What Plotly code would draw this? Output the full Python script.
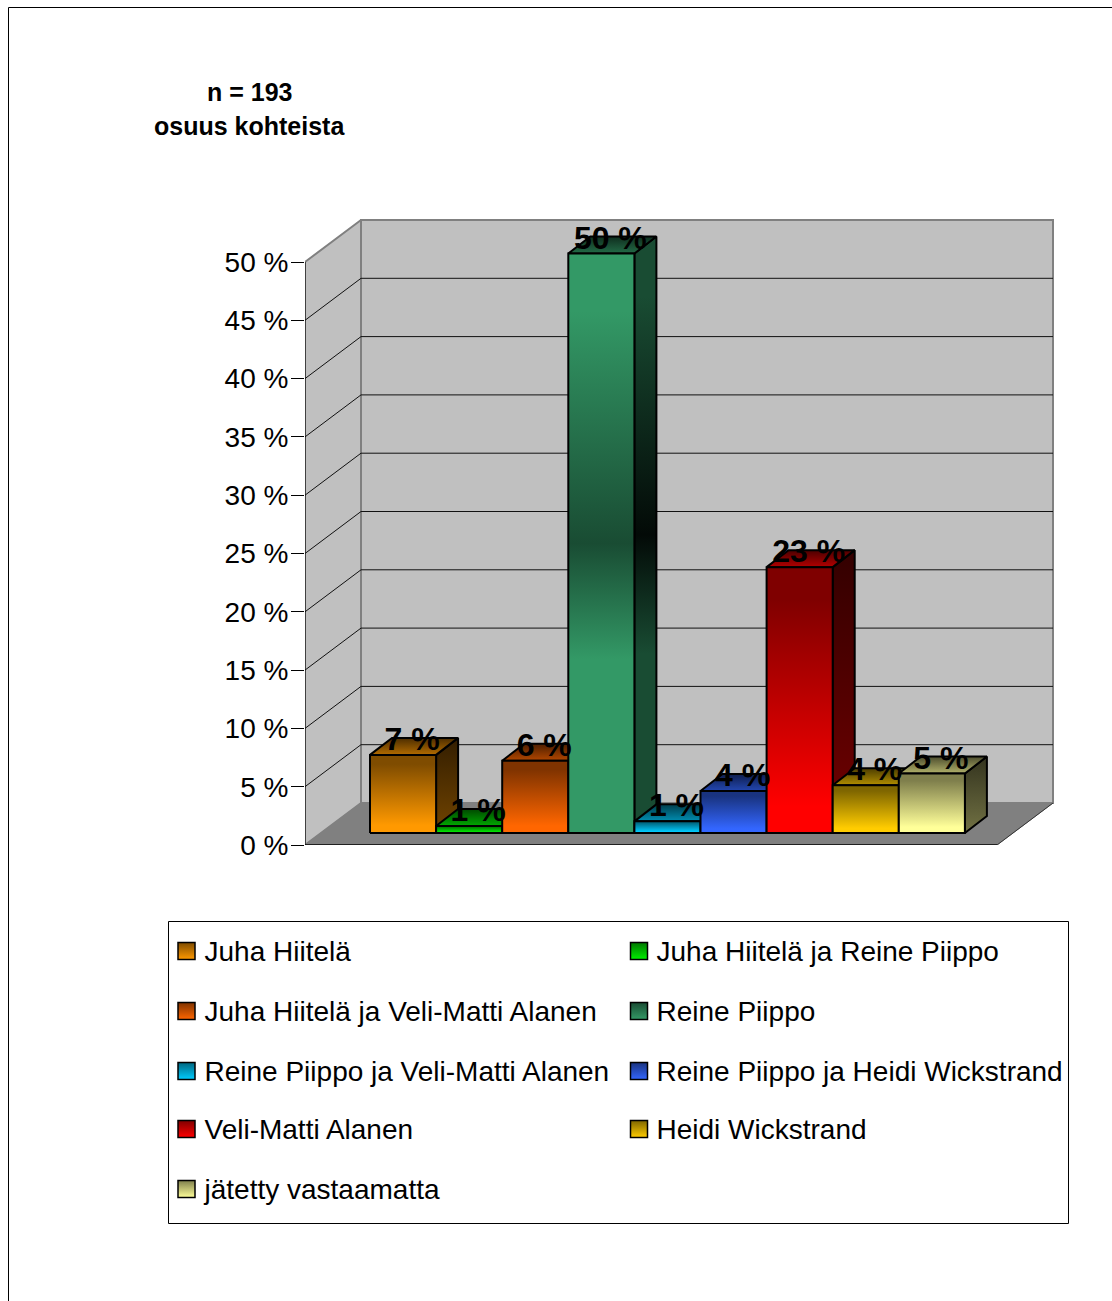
import plotly.graph_objects as go

# ---------- data ----------
series = ["Juha Hiitelä", "Juha Hiitelä ja Reine Piippo", "Juha Hiitelä ja Veli-Matti Alanen",
          "Reine Piippo", "Reine Piippo ja Veli-Matti Alanen", "Reine Piippo ja Heidi Wickstrand",
          "Veli-Matti Alanen", "Heidi Wickstrand", "jätetty vastaamatta"]
values = [6.7, 0.6, 6.2, 49.7, 1.0, 3.6, 22.8, 4.1, 5.1]
labels = ["7 %", "1 %", "6 %", "50 %", "1 %", "4 %", "23 %", "4 %", "5 %"]
base_colors = ["#FF9900", "#00F000", "#FF6600", "#339966", "#00CCFF", "#3366FF", "#FF0000", "#FFCC00", "#FFFF99"]
tick_vals = [0, 5, 10, 15, 20, 25, 30, 35, 40, 45, 50]
tick_text = ["0 %", "5 %", "10 %", "15 %", "20 %", "25 %", "30 %", "35 %", "40 %", "45 %", "50 %"]
title_lines = ["n = 193", "osuus kohteista"]

# ---------- layout constants ----------
W, H = 1112, 1301
FONT = "Liberation Sans"
PX_X = 66.1                # pixels per bar width
PX_Y = 583 / 50            # pixels per percent
X_LEFT = (305 - 370) / PX_X
X_RIGHT = (997 - 370) / PX_X
DEPTH_X, DEPTH_Y = 56 / PX_X, 42 / PX_Y     # chart depth
BAR_DX, BAR_DY = 22 / PX_X, 17 / PX_Y       # bar depth
FLOOR_Y = 12 / PX_Y        # bars stand this far back on the floor


def shade(hex_color, k):
    r, g, b = (int(hex_color[i:i + 2], 16) for i in (1, 3, 5))
    return f"rgb({int(r * k)},{int(g * k)},{int(b * k)})"


def poly(xs, ys, **kw):
    return go.Scatter(x=xs + xs[:1], y=ys + ys[:1], mode="lines", fill="toself",
                      hoverinfo="skip", showlegend=False, cliponaxis=False, **kw)


def seg(xs, ys, color, width):
    return go.Scatter(x=xs, y=ys, mode="lines", line=dict(color=color, width=width),
                      hoverinfo="skip", showlegend=False, cliponaxis=False)


def front_scale(i, c):
    if i == 3:   # mid-dark gradient of the tall green bar
        return [[0, c], [0.3, c], [0.5, shade(c, 0.5)], [0.9, c], [1, c]]
    return [[0, c], [0.1, c], [0.88, shade(c, 0.5)], [1, shade(c, 0.5)]]


def side_scale(i, c):
    if i == 3:
        return [[0, shade(c, 0.5)], [0.3, shade(c, 0.5)], [0.5, shade(c, 0.07)], [0.9, shade(c, 0.5)], [1, shade(c, 0.5)]]
    return [[0, shade(c, 0.45)], [1, shade(c, 0.2)]]


fig = go.Figure()
ymax = tick_vals[-1]
GRID = "#111111"
WALL = "#C0C0C0"
EDGE = "#808080"

# walls and floor
fig.add_trace(poly([X_LEFT, X_LEFT + DEPTH_X, X_LEFT + DEPTH_X, X_LEFT], [0, DEPTH_Y, ymax + DEPTH_Y, ymax],
                   fillcolor=WALL, line=dict(color=EDGE, width=2)))
fig.add_trace(poly([X_LEFT + DEPTH_X, X_RIGHT + DEPTH_X, X_RIGHT + DEPTH_X, X_LEFT + DEPTH_X],
                   [DEPTH_Y, DEPTH_Y, ymax + DEPTH_Y, ymax + DEPTH_Y],
                   fillcolor=WALL, line=dict(color=EDGE, width=2)))
fig.add_trace(poly([X_LEFT, X_RIGHT, X_RIGHT + DEPTH_X, X_LEFT + DEPTH_X], [0, 0, DEPTH_Y, DEPTH_Y],
                   fillcolor=EDGE, line=dict(color=EDGE, width=1)))
for v in tick_vals[1:-1]:
    fig.add_trace(seg([X_LEFT, X_LEFT + DEPTH_X, X_RIGHT + DEPTH_X], [v, v + DEPTH_Y, v + DEPTH_Y], GRID, 1))
fig.add_trace(seg([X_RIGHT, X_RIGHT + DEPTH_X], [0, DEPTH_Y], "#333333", 1))
fig.add_trace(seg([X_LEFT, X_LEFT], [0, ymax], "black", 1))      # value axis
fig.add_trace(seg([X_LEFT, X_RIGHT], [0, 0], "black", 1.5))      # front floor edge

# bars, left to right
for i, (v, c) in enumerate(zip(values, base_colors)):
    y0, y1 = FLOOR_Y, FLOOR_Y + v
    outline = dict(color="black", width=2)
    fig.add_trace(poly([i + 1, i + 1 + BAR_DX, i + 1 + BAR_DX, i + 1], [y0, y0 + BAR_DY, y1 + BAR_DY, y1],
                       line=outline,
                       fillgradient=dict(type="vertical", colorscale=side_scale(i, c))))
    top_scale = [[0, shade(c, 0.7)], [1, shade(c, 0.3)]]
    fig.add_trace(poly([i, i + 1, i + 1 + BAR_DX, i + BAR_DX], [y1, y1, y1 + BAR_DY, y1 + BAR_DY],
                       line=outline, fillgradient=dict(type="vertical", colorscale=top_scale)))
    fig.add_trace(poly([i, i + 1, i + 1, i], [y0, y0, y1, y1], line=outline,
                       fillgradient=dict(type="vertical", colorscale=front_scale(i, c))))

# data labels
fig.add_trace(go.Scatter(
    x=[i + 0.5 + 9 / PX_X for i in range(len(values))],
    y=[FLOOR_Y + v + 13 / PX_Y for v in values],
    text=labels, mode="text", textposition="middle center",
    textfont=dict(family=FONT, size=32, color="black"),
    texttemplate="<b>%{text}</b>", hoverinfo="skip", showlegend=False, cliponaxis=False))

# legend, drawn on a full-page overlay
LEG_COL_SW = [186.5, 639]
LEG_COL_TX = [204.5, 656.5]
LEG_ROW_SW = [951, 1011, 1071, 1129, 1189]
LEG_ROW_TX = [954, 1014, 1074, 1132, 1192]
rows_xy = [(0, 0), (1, 0), (0, 1), (1, 1), (0, 2), (1, 2), (0, 3), (1, 3), (0, 4)]
for name, c, (cx, ry) in zip(series, base_colors, rows_xy):
    fig.add_trace(go.Scatter(
        x=[LEG_COL_SW[cx]], y=[LEG_ROW_SW[ry]], mode="markers", xaxis="x2", yaxis="y2", showlegend=False, hoverinfo="skip",
        marker=dict(symbol="square", size=17, color=shade(c, 0.5),
                    gradient=dict(type="vertical", color=c), line=dict(color="black", width=1.5))))
    fig.add_trace(go.Scatter(
        x=[LEG_COL_TX[cx]], y=[LEG_ROW_TX[ry]], mode="text", text=[name], textposition="middle right",
        textfont=dict(family=FONT, size=28, color="black"),
        xaxis="x2", yaxis="y2", showlegend=False, hoverinfo="skip"))

annotations = [dict(xref="x2", yref="y2", x=249, y=y, text=f"<b>{t}</b>", showarrow=False,
                    font=dict(family=FONT, size=25, color="black"))
               for t, y in zip(title_lines, [92, 126])]

shapes = [
    dict(type="rect", xref="x2", yref="y2", x0=168.5, x1=1068.5, y0=921.5, y1=1223.5,
         line=dict(color="black", width=1), layer="below"),
    dict(type="line", xref="x2", yref="y2", x0=8.5, x1=8.5, y0=7.5, y1=1301, line=dict(color="black", width=1)),
    dict(type="line", xref="x2", yref="y2", x0=8.5, x1=1112, y0=7.5, y1=7.5, line=dict(color="black", width=1)),
]

TOP_PX = 845 - (ymax + DEPTH_Y) * PX_Y
fig.update_layout(
    width=W, height=H, autosize=False, margin=dict(l=0, r=0, t=0, b=0, pad=0, autoexpand=False),
    paper_bgcolor="white", plot_bgcolor="rgba(0,0,0,0)", showlegend=False,
    font=dict(family=FONT, color="black"),
    annotations=annotations, shapes=shapes,
    xaxis=dict(domain=[305 / W, 1055 / W], range=[X_LEFT, X_LEFT + 750 / PX_X], showgrid=False, zeroline=False,
               showticklabels=False, ticks="", showline=False),
    yaxis=dict(domain=[(H - 845) / H, (H - TOP_PX + 3) / H], range=[0, ymax + DEPTH_Y + 3 / PX_Y],
               tickvals=tick_vals, ticktext=tick_text,
               ticks="outside", ticklen=13, tickwidth=1, tickcolor="black", showgrid=False, zeroline=False,
               showline=False, ticklabelstandoff=-3,
               tickfont=dict(family=FONT, size=28, color="black")),
    xaxis2=dict(domain=[0, 1], range=[0, W], visible=False, fixedrange=True, anchor="y2"),
    yaxis2=dict(domain=[0, 1], range=[H, 0], visible=False, fixedrange=True, anchor="x2"),
)

fig.write_html("out.html", config=dict(displayModeBar=False),
               post_script="document.body.style.margin='0';document.body.style.overflow='hidden';")
